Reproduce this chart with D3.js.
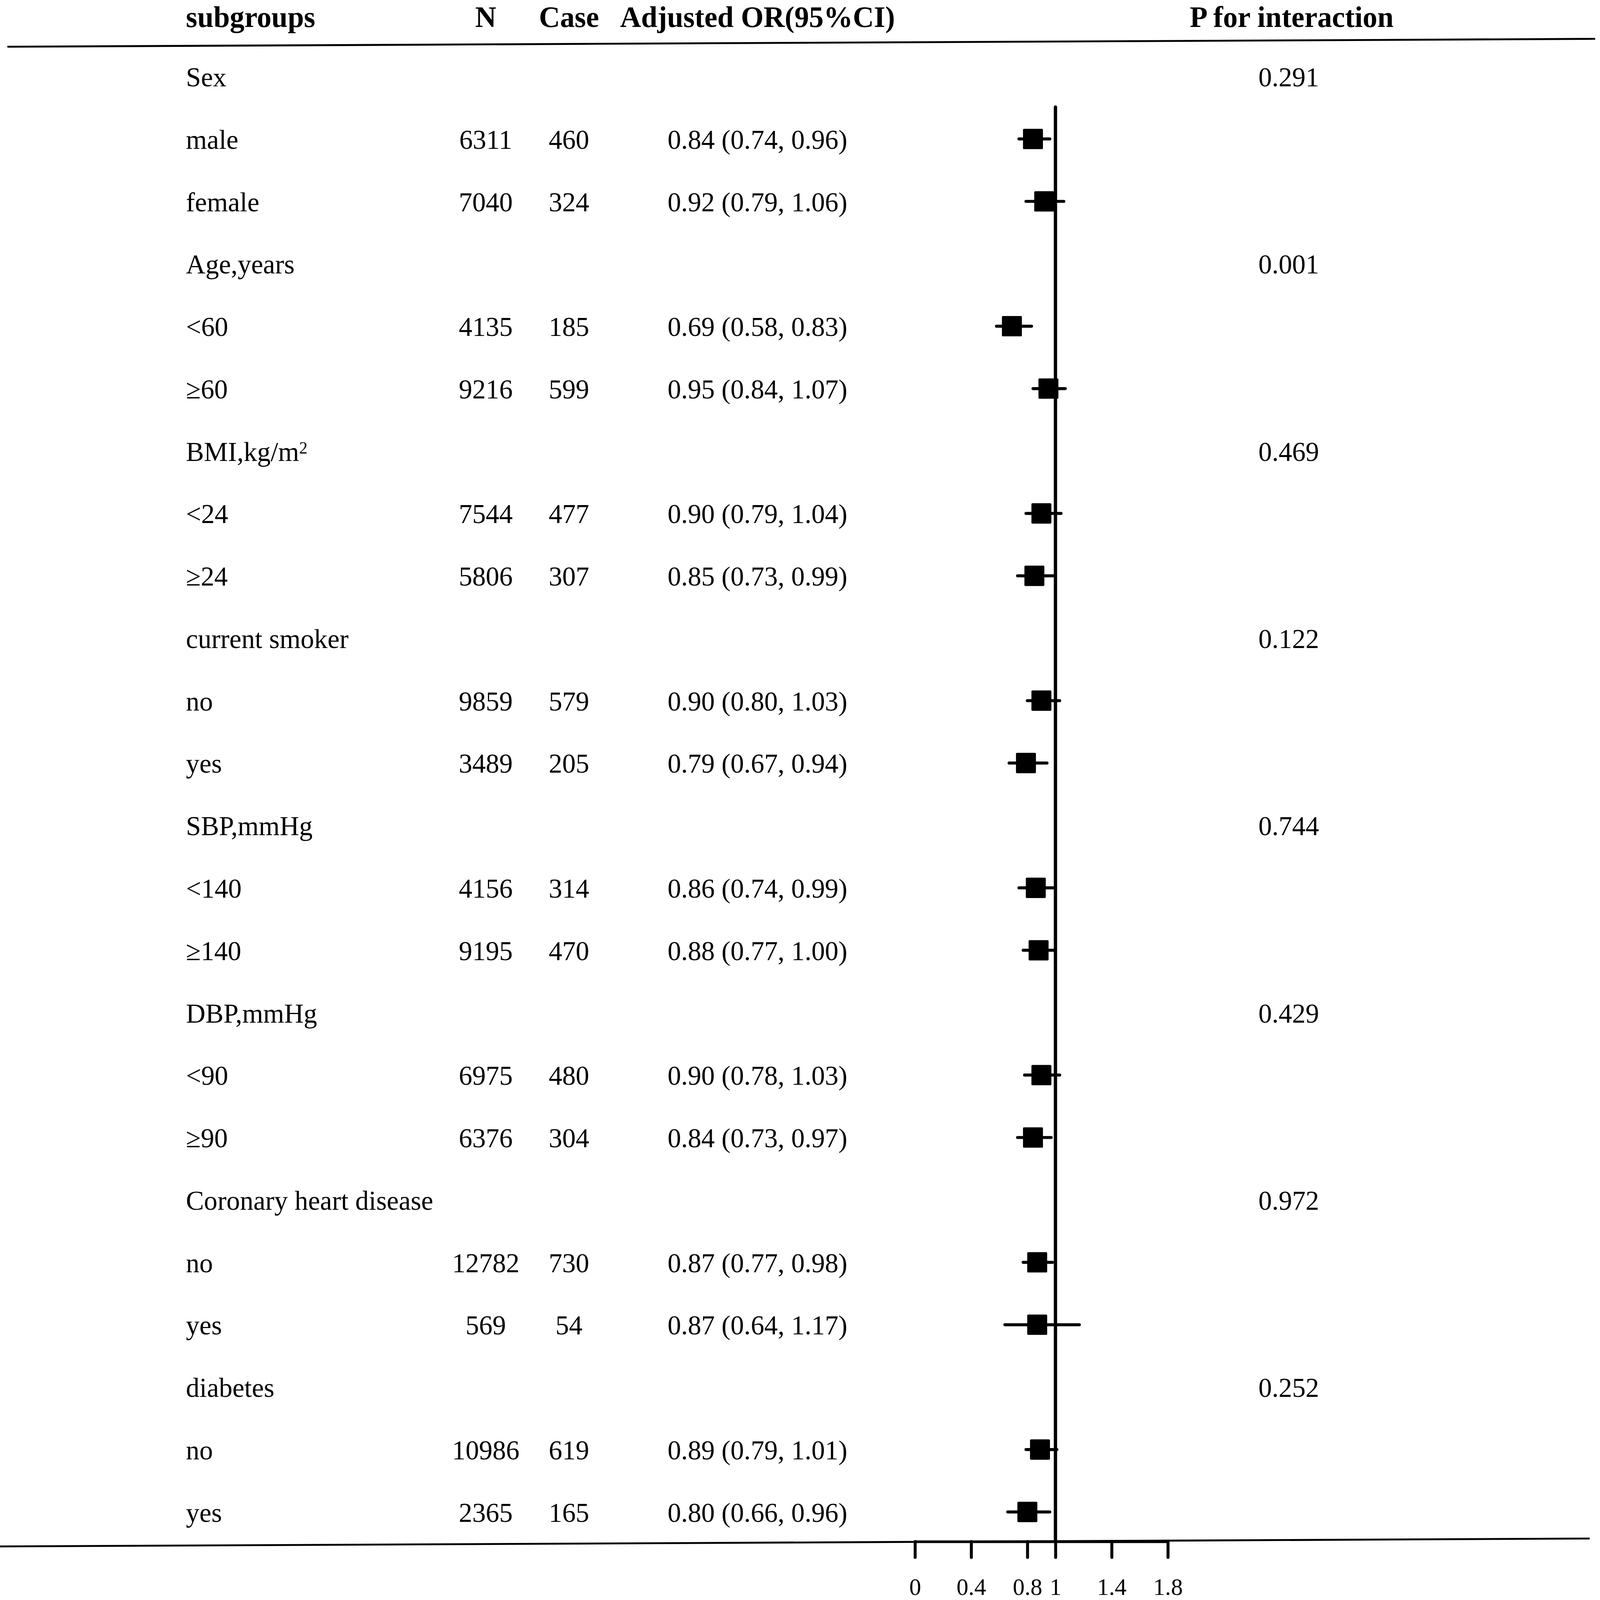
<!DOCTYPE html>
<html>
<head>
<meta charset="utf-8">
<script src="https://cdn.jsdelivr.net/npm/d3@7"></script>
<style>
    html, body { margin: 0; padding: 0; background: #fff; overflow: hidden; }
    svg { display: block; }
    text { font-family: "Liberation Serif", "Times New Roman", serif; fill: #000; }
</style>
</head>
<body>
<script>
// group rows (with P for interaction)
var groupNames = ["Sex", "Age,years", "BMI,kg/m", "current smoker", "SBP,mmHg", "DBP,mmHg", "Coronary heart disease", "diabetes"];
var groupP = ["0.291", "0.001", "0.469", "0.122", "0.744", "0.429", "0.972", "0.252"];

// level rows, two per group
var levelNames = ["male", "female", "<60", "\u226560", "<24", "\u226524", "no", "yes", "<140", "\u2265140", "<90", "\u226590", "no", "yes", "no", "yes"];
var nVals = [6311, 7040, 4135, 9216, 7544, 5806, 9859, 3489, 4156, 9195, 6975, 6376, 12782, 569, 10986, 2365];
var caseVals = [460, 324, 185, 599, 477, 307, 579, 205, 314, 470, 480, 304, 730, 54, 619, 165];
var orVals = [0.84, 0.92, 0.69, 0.95, 0.90, 0.85, 0.90, 0.79, 0.86, 0.88, 0.90, 0.84, 0.87, 0.87, 0.89, 0.80];
var lowerVals = [0.74, 0.79, 0.58, 0.84, 0.79, 0.73, 0.80, 0.67, 0.74, 0.77, 0.78, 0.73, 0.77, 0.64, 0.79, 0.66];
var upperVals = [0.96, 1.06, 0.83, 1.07, 1.04, 0.99, 1.03, 0.94, 0.99, 1.00, 1.03, 0.97, 0.98, 1.17, 1.01, 0.96];

var tickVals = [0, 0.4, 0.8, 1, 1.4, 1.8];
var tickLabels = ["0", "0.4", "0.8", "1", "1.4", "1.8"];

// drawing units follow the reference picture; the svg is stretched to the window
var width = 4328, height = 4243;

// build the 24 table rows
var rows = [];
groupNames.forEach(function(g, gi) {
    rows.push({ label: g, group: true, p: groupP[gi] });
    for (var k = 0; k < 2; k++) {
        var i = gi * 2 + k;
        rows.push({ label: levelNames[i], group: false, n: nVals[i], cases: caseVals[i],
            or: orVals[i], lo: lowerVals[i], hi: upperVals[i] });
    }
});

var svg = d3.select("body")
    .append("svg")
        .attr("width", window.innerWidth || width)
        .attr("height", window.innerHeight || height)
        .attr("viewBox", "0 0 " + width + " " + height)
        .attr("preserveAspectRatio", "none");

var xscale = d3.scaleLinear()
    .domain([0, 1.8])
    .range([2475, 3159]);

// row index -> text baseline
var yscale = d3.scaleLinear()
    .domain([0, rows.length - 1])
    .range([229, 4035.5]);

var bodyFont = 73, headFont = 79;
var colN = 1314, colCase = 1539, colOR = 2049, colP = 3486;

// header
var headers = [
    { t: "subgroups", x: 503, a: "start" },
    { t: "N", x: colN, a: "middle" },
    { t: "Case", x: colCase, a: "middle" },
    { t: "Adjusted OR(95%CI)", x: colOR, a: "middle" },
    { t: "P for interaction", x: 3494, a: "middle" }
];
svg.selectAll(".head")
    .data(headers)
    .enter()
    .append("text")
        .attr("class", "head")
        .attr("x", function(d) { return d.x; })
        .attr("y", 72)
        .style("text-anchor", function(d) { return d.a; })
        .style("font-size", headFont + "px")
        .style("font-weight", "bold")
        .text(function(d) { return d.t; });

// top and bottom rules (slightly tilted like the scan)
svg.append("line")
    .attr("x1", 20).attr("y1", 124)
    .attr("x2", 4315).attr("y2", 103)
    .attr("stroke", "#000")
    .attr("stroke-width", 5);

svg.append("line")
    .attr("x1", 0).attr("y1", 4101)
    .attr("x2", 4300).attr("y2", 4080)
    .attr("stroke", "#000")
    .attr("stroke-width", 5);

// labels
var labels = svg.selectAll(".lab")
    .data(rows)
    .enter()
    .append("text")
        .attr("class", "lab")
        .attr("x", 503)
        .attr("y", function(d, i) { return yscale(i); })
        .style("font-size", bodyFont + "px")
        .text(function(d) { return d.label; });

// superscript 2 on BMI
labels.filter(function(d) { return d.label === "BMI,kg/m"; })
    .append("tspan")
        .attr("dy", "-0.42em")
        .style("font-size", "0.62em")
        .text("2");

var levelRows = rows.map(function(d, i) { return { d: d, i: i }; })
    .filter(function(r) { return !r.d.group; });
var groupRows = rows.map(function(d, i) { return { d: d, i: i }; })
    .filter(function(r) { return r.d.group; });

function addCol(cls, data, x, fmt) {
    svg.selectAll("." + cls)
        .data(data)
        .enter()
        .append("text")
            .attr("class", cls)
            .attr("x", x)
            .attr("y", function(r) { return yscale(r.i); })
            .style("text-anchor", "middle")
            .style("font-size", bodyFont + "px")
            .text(fmt);
}

addCol("ncol", levelRows, colN, function(r) { return r.d.n; });
addCol("casecol", levelRows, colCase, function(r) { return r.d.cases; });
addCol("orcol", levelRows, colOR, function(r) {
    return r.d.or.toFixed(2) + " (" + r.d.lo.toFixed(2) + ", " + r.d.hi.toFixed(2) + ")";
});
addCol("pcol", groupRows, colP, function(r) { return r.d.p; });

// reference line at OR = 1
svg.append("line")
    .attr("x1", xscale(1)).attr("x2", xscale(1))
    .attr("y1", 284).attr("y2", 4088)
    .attr("stroke", "#000")
    .attr("stroke-width", 9)
    .attr("stroke-linecap", "round");

// CI whiskers
svg.selectAll(".ci")
    .data(levelRows)
    .enter()
    .append("line")
        .attr("class", "ci")
        .attr("x1", function(r) { return xscale(r.d.lo); })
        .attr("x2", function(r) { return xscale(r.d.hi); })
        .attr("y1", function(r) { return yscale(r.i) - 26; })
        .attr("y2", function(r) { return yscale(r.i) - 26; })
        .attr("stroke", "#000")
        .attr("stroke-width", 8)
        .attr("stroke-linecap", "round");

// point estimates
var box = 54;
svg.selectAll(".pt")
    .data(levelRows)
    .enter()
    .append("rect")
        .attr("class", "pt")
        .attr("x", function(r) { return xscale(r.d.or) - box / 2; })
        .attr("y", function(r) { return yscale(r.i) - 26 - box / 2; })
        .attr("width", box)
        .attr("height", box)
        .attr("rx", 3)
        .attr("fill", "#000");

// x axis
var axis = svg.append("g")
    .attr("transform", "translate(0,4088)")
    .call(d3.axisBottom(xscale)
        .tickValues(tickVals)
        .tickFormat(function(d, i) { return tickLabels[i]; })
        .tickSizeInner(42)
        .tickSizeOuter(0));

axis.select(".domain")
    .attr("stroke", "#000")
    .attr("stroke-width", 7);
axis.selectAll(".tick line")
    .attr("stroke", "#000")
    .attr("stroke-width", 8)
    .attr("stroke-linecap", "round");
axis.selectAll(".tick text")
    .attr("y", 142)
    .attr("dy", 0)
    .attr("fill", "#000")
    .style("font-size", "64px")
    .style("font-family", "'Liberation Serif', 'Times New Roman', serif");
</script>
</body>
</html>
